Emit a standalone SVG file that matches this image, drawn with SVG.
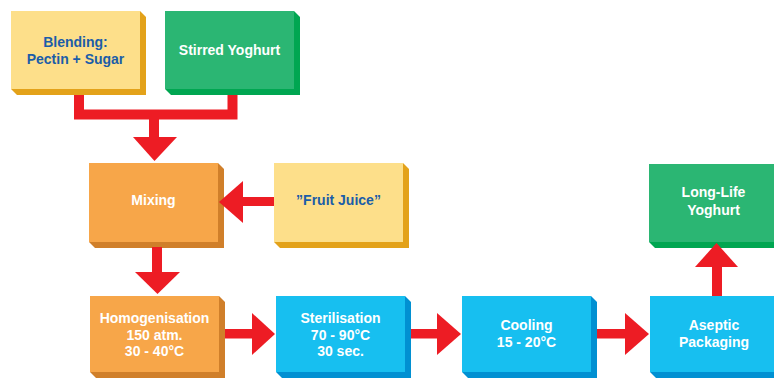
<svg xmlns="http://www.w3.org/2000/svg" width="774" height="378" viewBox="0 0 774 378">
  <defs>
    <style>
      .yel .face { fill: #FDDF8A; } .yel .side { fill: #E3A21A; }
      .grn .face { fill: #2BB673; } .grn .side { fill: #00A651; }
      .org .face { fill: #F7A649; } .org .side { fill: #D07F2A; }
      .blu .face { fill: #17BFF0; } .blu .side { fill: #0190D2; }
      text { font-family: "Liberation Sans", Arial, Helvetica, sans-serif; font-weight: bold; font-size: 14px; text-anchor: middle; }
      .yel text { fill: #1B5DA8; }
      .grn text, .org text, .blu text { fill: #FFFFFF; }
      .flow { fill: #ED1C24; }
      .bar { fill: none; stroke: #ED1C24; stroke-width: 10; stroke-linejoin: miter; }
    </style>
  </defs>
  <rect width="774" height="378" fill="#FFFFFF"/>

  <!-- process boxes: a bevelled side slab (6px deep) under a flat face -->
  <g id="blending" class="yel">
    <polygon class="side" points="140,11 146,17 146,95 17,95 11,89"/>
    <rect class="face" x="11" y="11" width="129" height="78"/>
    <text x="75.5" y="47">Blending:</text>
    <text x="75.5" y="64">Pectin + Sugar</text>
  </g>

  <g id="stirred-yoghurt" class="grn">
    <polygon class="side" points="294,11 300,17 300,95 171,95 165,89"/>
    <rect class="face" x="165" y="11" width="129" height="78"/>
    <text x="229.5" y="55">Stirred Yoghurt</text>
  </g>

  <g id="mixing" class="org">
    <polygon class="side" points="218,163 224,169 224,248 95,248 89,242"/>
    <rect class="face" x="89" y="163" width="129" height="79"/>
    <text x="153.5" y="205">Mixing</text>
  </g>

  <g id="fruit-juice" class="yel">
    <polygon class="side" points="403,163 409,169 409,248 280,248 274,242"/>
    <rect class="face" x="274" y="163" width="129" height="79"/>
    <text x="338.5" y="205">”Fruit Juice”</text>
  </g>

  <g id="homogenisation" class="org">
    <polygon class="side" points="219,296 225,302 225,378 96,378 90,372"/>
    <rect class="face" x="90" y="296" width="129" height="76"/>
    <text x="154.5" y="323">Homogenisation</text>
    <text x="154.5" y="340">150 atm.</text>
    <text x="154.5" y="356">30 - 40°C</text>
  </g>

  <g id="sterilisation" class="blu">
    <polygon class="side" points="405,296 411,302 411,378 282,378 276,372"/>
    <rect class="face" x="276" y="296" width="129" height="76"/>
    <text x="340.5" y="323">Sterilisation</text>
    <text x="340.5" y="340">70 - 90°C</text>
    <text x="340.5" y="356">30 sec.</text>
  </g>

  <g id="cooling" class="blu">
    <polygon class="side" points="591,296 597,302 597,378 468,378 462,372"/>
    <rect class="face" x="462" y="296" width="129" height="76"/>
    <text x="526.5" y="330">Cooling</text>
    <text x="526.5" y="347">15 - 20°C</text>
  </g>

  <g id="aseptic-packaging" class="blu">
    <polygon class="side" points="779,296 785,302 785,378 656,378 650,372"/>
    <rect class="face" x="650" y="296" width="129" height="76"/>
    <text x="714" y="330">Aseptic</text>
    <text x="714" y="347">Packaging</text>
  </g>

  <g id="long-life-yoghurt" class="grn">
    <polygon class="side" points="778,164 784,170 784,248 655,248 649,242"/>
    <rect class="face" x="649" y="164" width="129" height="78"/>
    <text x="713.5" y="197">Long-Life</text>
    <text x="713.5" y="215">Yoghurt</text>
  </g>

  <!-- flow arrows -->
  <g id="connectors">
    <!-- blending + stirred yoghurt merge into mixing -->
    <path class="bar" d="M79,95 V114.5 H232.5 V95"/>
    <rect class="flow" x="149" y="114" width="10" height="25"/>
    <polygon class="flow" points="133,137 177,137 154.5,161"/>

    <!-- fruit juice into mixing -->
    <rect class="flow" x="242" y="197" width="32" height="9"/>
    <polygon class="flow" points="243,181 243,223 219,202"/>

    <!-- mixing to homogenisation -->
    <rect class="flow" x="152" y="247" width="10" height="26"/>
    <polygon class="flow" points="135,272 180,272 157.5,294"/>

    <!-- homogenisation to sterilisation -->
    <rect class="flow" x="225" y="329" width="28" height="9.5"/>
    <polygon class="flow" points="252,313 252,355 275,334"/>

    <!-- sterilisation to cooling -->
    <rect class="flow" x="411" y="329" width="27" height="9.5"/>
    <polygon class="flow" points="437,313 437,355 461,334"/>

    <!-- cooling to aseptic packaging -->
    <rect class="flow" x="597" y="329" width="29" height="9.5"/>
    <polygon class="flow" points="625,313 625,355 649,334"/>

    <!-- aseptic packaging up to long-life yoghurt -->
    <rect class="flow" x="712" y="266" width="10" height="30"/>
    <polygon class="flow" points="695,267 738,267 716.5,243"/>
  </g>
</svg>
